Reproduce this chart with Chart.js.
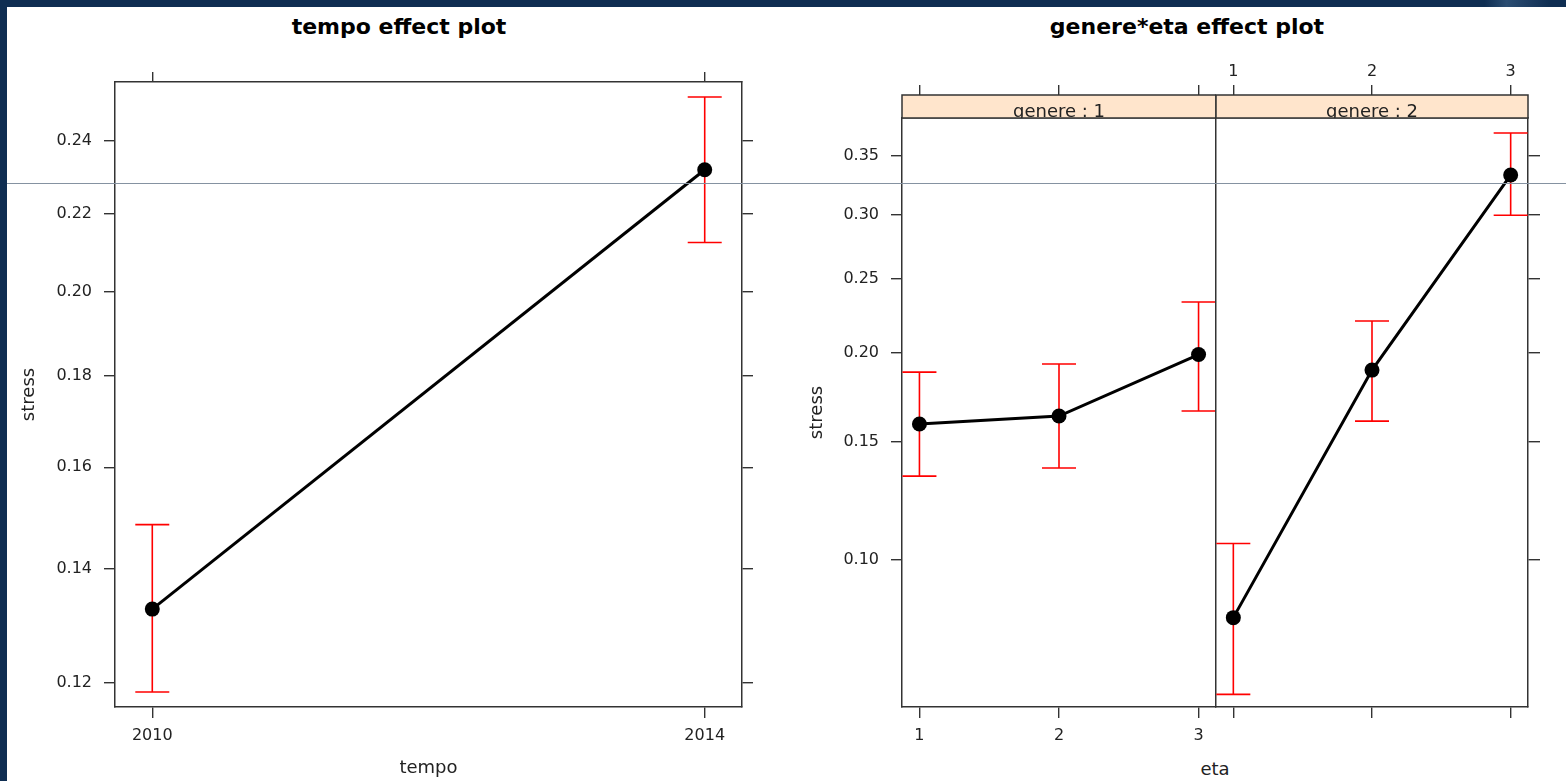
<!DOCTYPE html>
<html>
<head>
<meta charset="utf-8">
<title>tempo / genere*eta effect plots</title>
<script src="https://cdn.jsdelivr.net/npm/chart.js@4.4.1/dist/chart.umd.min.js"></script>
<style>
  html, body { margin: 0; padding: 0; background: #fff; }
  body { width: 1566px; height: 781px; position: relative; overflow: hidden; font-family: 'DejaVu Sans', sans-serif; }
  canvas { position: absolute; top: 0; }
  .frame-top { position: absolute; left: 0; top: 0; width: 1566px; height: 7px; z-index: 5;
    background: linear-gradient(90deg, #0f2e52 0%, #0f2e52 94.8%, #2b4d72 96.2%, #1d3d62 97.6%, #0f2e52 99%); }
  .frame-left { position: absolute; left: 0; top: 0; width: 7px; height: 781px; background: #0f2e52; z-index: 5; }
  .scanline { position: absolute; left: 7px; top: 183px; width: 1559px; height: 1px; background: #8592a1; z-index: 4; }
  .title { position: absolute; top: 16px; width: 500px; text-align: center; font-weight: bold; font-size: 22px; line-height: 22px; color: #000; }
  .xlab { position: absolute; top: 760px; width: 200px; text-align: center; font-size: 18px; line-height: 18px; color: #222; }
</style>
</head>
<body>
<div class="frame-top"></div>
<div class="frame-left"></div>
<div class="scanline"></div>

<div class="title" style="left:149px">tempo effect plot</div>
<div class="title" style="left:937px">genere*eta effect plot</div>
<div class="xlab" style="left:1115px">eta</div>

<canvas id="tempoChart" width="800" height="781" style="left:0"></canvas>
<canvas id="genere1Chart" width="433" height="781" style="left:783px"></canvas>
<canvas id="genere2Chart" width="360" height="781" style="left:1206px"></canvas>

<script>
// ── data (stress on the probability scale) ────────────────────────────
const tempoYears  = [2010, 2014];
const tempoFit    = [0.1326, 0.2320];
const tempoLower  = [0.1185, 0.2125];
const tempoUpper  = [0.1484, 0.2527];
const tempoTicks  = [0.12, 0.14, 0.16, 0.18, 0.20, 0.22, 0.24];
const tempoRange  = [0.1161, 0.2571];
const tempoXRange = [2009.73, 2014.27];

const etaLevels   = [1, 2, 3];
const genere1Fit  = [0.1590, 0.1632, 0.1987];
const genere1Low  = [0.1336, 0.1373, 0.1659];
const genere1Up   = [0.1880, 0.1929, 0.2334];
const genere2Fit  = [0.0815, 0.1892, 0.3333];
const genere2Low  = [0.0617, 0.1605, 0.2993];
const genere2Up   = [0.1060, 0.2204, 0.3707];
const stressTicks = [0.10, 0.15, 0.20, 0.25, 0.30, 0.35];
const stressRange = [0.0589, 0.3845];
const etaXRange   = [0.875, 3.125];

// ── helpers ───────────────────────────────────────────────────────────
const FONT = 'DejaVu Sans';
const INK  = '#333';
const logit = p => Math.log(p / (1 - p));

// one lattice-style axis: fixed size, ticks only at the given values
function axis({ position, min, max, ticks, labels, tick = 11, size, pad = 3, title }) {
  const horizontal = position === 'top' || position === 'bottom';
  return {
    type: 'linear',
    position,
    min,
    max,
    afterBuildTicks: s => { s.ticks = ticks.map(v => ({ value: v })); },
    afterFit: s => { if (horizontal) s.height = size; else s.width = size; },
    grid: {
      display: true,
      drawOnChartArea: false,
      drawTicks: tick > 0,
      tickLength: tick,
      color: INK,
      lineWidth: 1.4,
    },
    border: { display: true, color: INK, width: 1.5 },
    ticks: {
      display: !!labels,
      autoSkip: false,
      maxRotation: 0,
      padding: pad,
      color: '#222',
      font: { family: FONT, size: 16 },
      callback: (v, i) => (labels ? labels[i] : ''),
    },
    title: title
      ? { display: true, text: title.text, color: '#222', font: { family: FONT, size: 18 }, padding: title.padding }
      : { display: false },
  };
}

function effectLine(xs, fit, lower, upper, xAxisID, yAxisID) {
  return {
    data: xs.map((x, i) => ({ x, y: logit(fit[i]) })),
    lower,
    upper,
    xAxisID,
    yAxisID,
    borderColor: '#000',
    borderWidth: 3,
    pointRadius: 7.5,
    pointHoverRadius: 7.5,
    pointBackgroundColor: '#000',
    pointBorderWidth: 0,
    tension: 0,
    clip: false,
  };
}

// red confidence bars with caps, placed through the chart scales
const errorBars = {
  id: 'errorBars',
  beforeDatasetsDraw(chart) {
    const { ctx, chartArea: a } = chart;
    const cap = 17;
    ctx.save();
    ctx.beginPath();
    ctx.rect(a.left, a.top, a.right - a.left, a.bottom - a.top);
    ctx.clip();
    ctx.strokeStyle = '#ff0000';
    ctx.lineWidth = 1.6;
    chart.data.datasets.forEach((ds, di) => {
      if (!ds.lower) return;
      const meta = chart.getDatasetMeta(di);
      const xs = chart.scales[meta.xAxisID];
      const ys = chart.scales[meta.yAxisID];
      ds.data.forEach((pt, i) => {
        const x  = xs.getPixelForValue(pt.x);
        const lo = ys.getPixelForValue(logit(ds.lower[i]));
        const hi = ys.getPixelForValue(logit(ds.upper[i]));
        ctx.beginPath();
        ctx.moveTo(x, lo); ctx.lineTo(x, hi);
        ctx.moveTo(x - cap, lo); ctx.lineTo(x + cap, lo);
        ctx.moveTo(x - cap, hi); ctx.lineTo(x + cap, hi);
        ctx.stroke();
      });
    });
    ctx.restore();
  },
};

// peach strip above a panel ("genere : 1" ...)
const strip = {
  id: 'strip',
  afterDraw(chart, args, opts) {
    if (!opts.text) return;
    const { ctx, chartArea: a } = chart;
    const top = opts.top;
    const h = a.top - top;
    ctx.save();
    ctx.fillStyle = '#ffe5cc';
    ctx.fillRect(a.left, top, a.right - a.left, h);
    ctx.beginPath();
    ctx.rect(a.left, top, a.right - a.left, h);
    ctx.clip();
    ctx.fillStyle = '#222';
    ctx.font = `18px '${FONT}'`;
    ctx.textAlign = 'center';
    ctx.textBaseline = 'alphabetic';
    ctx.fillText(opts.text, (a.left + a.right) / 2, opts.baseline);
    ctx.restore();
    ctx.save();
    ctx.strokeStyle = INK;
    ctx.lineWidth = 1.5;
    ctx.strokeRect(a.left, top, a.right - a.left, h);
    ctx.restore();
  },
};

function baseOptions(scales, stripOpts) {
  return {
    responsive: false,
    animation: false,
    events: [],
    layout: { padding: 0, autoPadding: false },
    plugins: {
      legend: { display: false },
      tooltip: { enabled: false },
      strip: stripOpts || {},
    },
    scales,
  };
}

const tempoLabels  = tempoYears.map(String);
const tempoYLabels = tempoTicks.map(v => v.toFixed(2));
const etaLabels    = etaLevels.map(String);
const stressLabels = stressTicks.map(v => v.toFixed(2));
const tY = tempoTicks.map(logit);
const sY = stressTicks.map(logit);

// ── tempo effect plot ────────────────────────────────────────────────
new Chart(document.getElementById('tempoChart'), {
  type: 'line',
  data: { datasets: [effectLine(tempoYears, tempoFit, tempoLower, tempoUpper, 'x', 'y')] },
  options: baseOptions({
    x:  axis({ position: 'bottom', min: tempoXRange[0], max: tempoXRange[1], ticks: tempoYears, labels: tempoLabels,
               tick: 11, size: 74, pad: 8.4, title: { text: 'tempo', padding: { top: 0, bottom: 2 } } }),
    xt: axis({ position: 'top', min: tempoXRange[0], max: tempoXRange[1], ticks: tempoYears, tick: 10, size: 82 }),
    y:  axis({ position: 'left', min: logit(tempoRange[0]), max: logit(tempoRange[1]), ticks: tY, labels: tempoYLabels,
               tick: 11, size: 115, pad: 12, title: { text: 'stress', padding: { top: 19, bottom: 0 } } }),
    yr: axis({ position: 'right', min: logit(tempoRange[0]), max: logit(tempoRange[1]), ticks: tY, tick: 11, size: 58 }),
  }),
  plugins: [errorBars],
});

// ── genere*eta effect plot, panel genere : 1 ─────────────────────────
new Chart(document.getElementById('genere1Chart'), {
  type: 'line',
  data: { datasets: [effectLine(etaLevels, genere1Fit, genere1Low, genere1Up, 'x', 'y')] },
  options: baseOptions({
    x:  axis({ position: 'bottom', min: etaXRange[0], max: etaXRange[1], ticks: etaLevels, labels: etaLabels,
               tick: 11, size: 74, pad: 8.4 }),
    xt: axis({ position: 'top', min: etaXRange[0], max: etaXRange[1], ticks: etaLevels, tick: 33, size: 118 }),
    y:  axis({ position: 'left', min: logit(stressRange[0]), max: logit(stressRange[1]), ticks: sY, labels: stressLabels,
               tick: 11, size: 119, pad: 12, title: { text: 'stress', padding: { top: 24, bottom: 0 } } }),
  }, { text: 'genere : 1', top: 95, baseline: 116.5 }),
  plugins: [errorBars, strip],
});

// ── genere*eta effect plot, panel genere : 2 ─────────────────────────
new Chart(document.getElementById('genere2Chart'), {
  type: 'line',
  data: { datasets: [effectLine(etaLevels, genere2Fit, genere2Low, genere2Up, 'x', 'y')] },
  options: baseOptions({
    x:  axis({ position: 'bottom', min: etaXRange[0], max: etaXRange[1], ticks: etaLevels, tick: 11, size: 74 }),
    xt: axis({ position: 'top', min: etaXRange[0], max: etaXRange[1], ticks: etaLevels, labels: etaLabels,
               tick: 33, size: 118, pad: 3.4 }),
    y:  axis({ position: 'left', min: logit(stressRange[0]), max: logit(stressRange[1]), ticks: sY, tick: 0, size: 10 }),
    yr: axis({ position: 'right', min: logit(stressRange[0]), max: logit(stressRange[1]), ticks: sY, tick: 12, size: 38 }),
  }, { text: 'genere : 2', top: 95, baseline: 116.5 }),
  plugins: [errorBars, strip],
});
</script>
</body>
</html>
